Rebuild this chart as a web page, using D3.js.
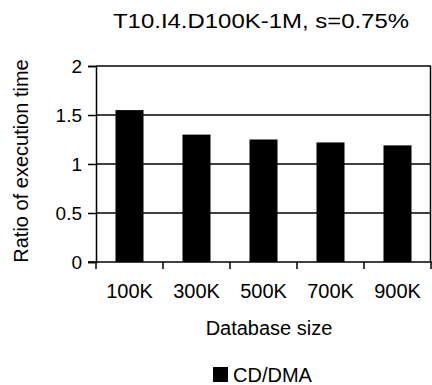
<!DOCTYPE html>
<html><head><meta charset="utf-8">
<script src="https://cdn.jsdelivr.net/npm/d3@7"></script>
<style>
html,body{margin:0;padding:0;background:#fff;}
text{font-family:"Liberation Sans",Arial,sans-serif;fill:#000;}
</style></head>
<body><svg id="c" width="432" height="385"></svg>
<script>
const categories = ["100K","300K","500K","700K","900K"];
const values = [1.55, 1.30, 1.25, 1.22, 1.19];
const yTicks = [0, 0.5, 1, 1.5, 2];
const seriesName = "CD/DMA";
const titleText = "T10.I4.D100K-1M, s=0.75%";
const xTitle = "Database size";
const yTitle = "Ratio of execution time";

const svg = d3.select("#c");
const L = 96, R = 431, T = 66, B = 262;

const x = d3.scaleBand().domain(categories).range([L, R]).paddingInner(0.582).paddingOuter(0.291);
const slot = d3.scaleBand().domain(categories).range([L, R]).padding(0);
const y = d3.scaleLinear().domain([0, 2]).range([B, T]);

// gridlines
svg.append("g").selectAll("line").data(yTicks.filter(d => d > 0)).join("line")
  .attr("x1", L).attr("x2", R).attr("y1", d => y(d)).attr("y2", d => y(d))
  .attr("stroke", "#000").attr("stroke-width", 1.5);
// right border
svg.append("line").attr("x1", R - 0.5).attr("x2", R - 0.5).attr("y1", y(2)).attr("y2", y(0))
  .attr("stroke", "#000").attr("stroke-width", 1.5);

// bars
svg.append("g").selectAll("rect").data(values).join("rect")
  .attr("x", (d, i) => x(categories[i])).attr("width", x.bandwidth())
  .attr("y", d => y(d)).attr("height", d => y(0) - y(d)).attr("fill", "#000");

// y axis
const ya = svg.append("g").attr("transform", `translate(${L},0)`)
  .call(d3.axisLeft(y).tickValues(yTicks).tickFormat(d3.format("")).tickSize(8).tickPadding(6));
ya.select(".domain").attr("stroke", "#000").attr("stroke-width", 1.5);
ya.selectAll(".tick line").attr("stroke", "#000").attr("stroke-width", 1.5);
ya.selectAll(".tick text").attr("font-size", 19).attr("font-family", "Liberation Sans, Arial, sans-serif");

// x axis line + ticks at slot boundaries
svg.append("line").attr("x1", L - 8).attr("x2", R + 1).attr("y1", B).attr("y2", B)
  .attr("stroke", "#000").attr("stroke-width", 1.5);
const bounds = categories.map(c => slot(c)).concat([slot(categories[categories.length - 1]) + slot.bandwidth()]);
svg.append("g").selectAll("line").data(bounds).join("line")
  .attr("x1", d => d).attr("x2", d => d).attr("y1", B).attr("y2", B + 7)
  .attr("stroke", "#000").attr("stroke-width", 1.5);
const xa = svg.append("g").attr("transform", `translate(0,${B})`)
  .call(d3.axisBottom(x).tickSize(0).tickPadding(22));
xa.select(".domain").remove();
xa.selectAll(".tick text").attr("font-size", 20).attr("font-family", "Liberation Sans, Arial, sans-serif");

// title
svg.append("text").attr("x", 261).attr("y", 28).attr("text-anchor", "middle")
  .attr("font-size", 20).attr("textLength", 296).attr("lengthAdjust", "spacingAndGlyphs").text(titleText);
// axis titles
svg.append("text").attr("transform", "translate(28,161) rotate(-90)").attr("text-anchor", "middle")
  .attr("font-size", 20).text(yTitle);
svg.append("text").attr("x", 269).attr("y", 335).attr("text-anchor", "middle")
  .attr("font-size", 20).text(xTitle);

// legend
svg.append("rect").attr("x", 213).attr("y", 367).attr("width", 15).attr("height", 15).attr("fill", "#000");
svg.append("text").attr("x", 233).attr("y", 382).attr("font-size", 20).text(seriesName);
</script></body></html>
